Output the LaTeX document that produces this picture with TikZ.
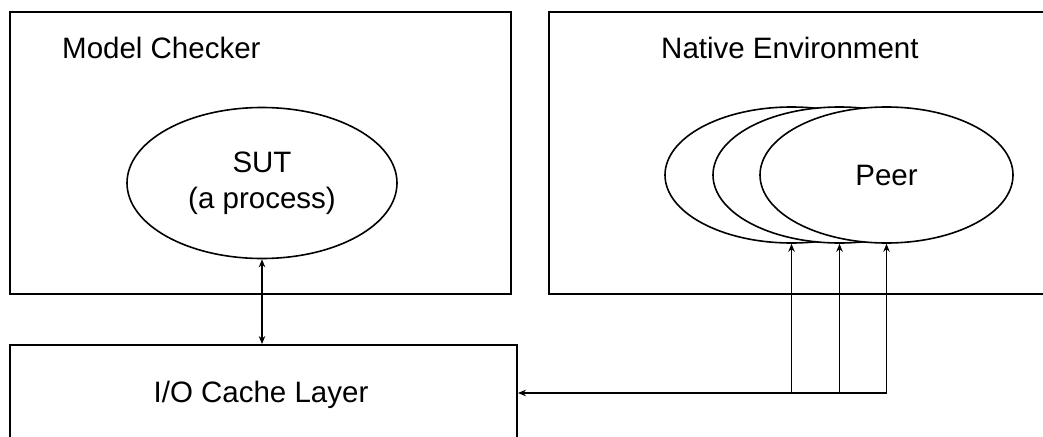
\documentclass[tikz,border=0pt]{standalone}
\usepackage{fontspec}
\setmainfont{Liberation Sans}
\usetikzlibrary{positioning}
\usetikzlibrary{shapes.geometric}
\usetikzlibrary{arrows.meta}
\tikzset{box/.style={draw,rectangle,inner sep=0pt,line width=1.9pt}}
\tikzset{proc/.style={draw,ellipse,fill=white,inner sep=0pt,line width=1.6pt,align=center,font=\fontsize{29.5}{36}\selectfont}}
\tikzset{title/.style={inner sep=0pt,font=\fontsize{29.5}{36}\selectfont}}
\tikzset{link/.style={line width=1.7pt,-{Stealth[length=8pt,width=6.5pt]}}}
\tikzset{dlink/.style={line width=1.7pt,{Stealth[length=8pt,width=6.5pt]}-{Stealth[length=8pt,width=6.5pt]}}}

\begin{document}
\begin{tikzpicture}[x=1pt,y=-1pt]
\useasboundingbox (0,0) rectangle (1043,436);
\clip (0,0) rectangle (1043,436);

% the three layers
\node[box,minimum width=501pt,minimum height=282pt] (checker) at (260.5,153) {};
\node[box,minimum width=551pt,minimum height=282pt] (native) at (824.5,153) {};
\node[box,minimum width=507pt,minimum height=140pt] (cache) at (263.5,415) {};

\node[title,anchor=west] (checkertitle) at (62,48) {Model Checker};
\node[title,anchor=west] (nativetitle) at (661,48) {Native Environment};
\node[title] (cachetitle) at (261,395) {I/O Cache Layer};

% processes
\node[proc,minimum width=270pt,minimum height=151pt] (sut) at (262,183) {SUT\\(a process)};
\node[proc,minimum width=253pt,minimum height=136pt] (peerA) at (791.5,175) {};
\node[proc,minimum width=253pt,minimum height=136pt] (peerB) at (839.5,175) {};
\node[proc,minimum width=253pt,minimum height=136pt] (peerC) at (886.5,175) {Peer};

% connections
\draw[dlink] (sut.south |- cache.north) -- (sut.south);
\coordinate (row) at (0,393);
\coordinate (tap) at (peerC.south |- row);
\draw[link] (tap) -- (tap -| cache.east);
\foreach \p in {peerA,peerB,peerC}
  \draw[link] (\p.south |- row) -- (\p.south);
\end{tikzpicture}
\end{document}
